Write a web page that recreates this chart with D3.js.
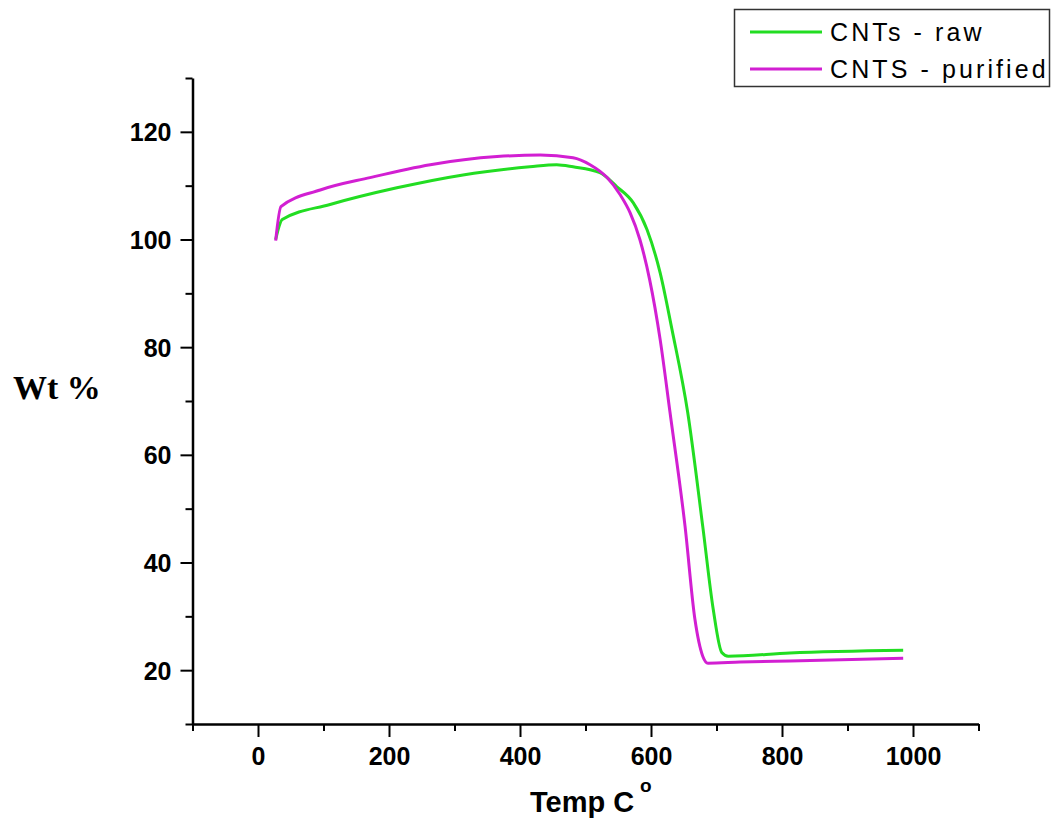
<!DOCTYPE html>
<html>
<head>
<meta charset="utf-8">
<script src="https://cdn.jsdelivr.net/npm/d3@7"></script>
<style>
  body { margin: 0; background: #fff; }
  svg { display: block; }
</style>
</head>
<body>
<div id="graph"></div>
<script>
// TGA curves
let tempRaw = [27, 37, 110, 212, 313, 415, 456, 481, 522, 548, 573, 594, 614, 632, 656, 679, 695, 708, 718, 812, 985];
let wtRaw   = [100, 103.7, 106.5, 109.6, 112.0, 113.5, 113.9, 113.5, 112.4, 109.8, 106.8, 101.8, 93.8, 83.3, 67.9, 46.7, 31.3, 23.3, 22.6, 23.2, 23.7];

let tempPurified = [27, 35, 95, 171, 263, 365, 431, 481, 507, 533, 553, 568, 583, 598, 614, 629, 652, 667, 679, 687, 736, 812, 985];
let wtPurified   = [99.8, 106.1, 109.2, 111.5, 113.9, 115.4, 115.7, 115.2, 113.9, 111.5, 108.3, 105.0, 100.0, 92.5, 81.4, 67.9, 46.7, 29.5, 22.6, 21.3, 21.5, 21.7, 22.2];

let seriesNames = ["CNTs - raw", "CNTS - purified"];
let seriesColors = ["#22dd22", "#d21fd2"];

let xTicks = [0, 200, 400, 600, 800, 1000];
let xMinor = [-100, 100, 300, 500, 700, 900, 1100];
let yTicks = [20, 40, 60, 80, 100, 120];
let yMinor = [10, 30, 50, 70, 90, 110, 130];

const width = 1053, height = 824;
const plot = {left: 192.5, right: 978.5, top: 78, bottom: 724};

let svg = d3.select("#graph")
    .append("svg")
    .attr("width", width)
    .attr("height", height);

let x = d3.scaleLinear().domain([-100, 1100]).range([plot.left, plot.right]);
let y = d3.scaleLinear().domain([10, 130]).range([plot.bottom, plot.top]);

// minor ticks first, then the labelled axis on top
svg.append("g")
    .attr("transform", `translate(0,${plot.bottom})`)
    .call(d3.axisBottom(x).tickValues(xMinor).tickSize(7).tickSizeOuter(0).tickFormat(""))
    .call(g => g.select(".domain").remove());
svg.append("g")
    .attr("transform", `translate(${plot.left},0)`)
    .call(d3.axisLeft(y).tickValues(yMinor).tickSize(7).tickSizeOuter(0).tickFormat(""))
    .call(g => g.select(".domain").remove());

let xAxis = svg.append("g")
    .attr("transform", `translate(0,${plot.bottom})`)
    .call(d3.axisBottom(x).tickValues(xTicks).tickSize(13).tickSizeOuter(0).tickPadding(10).tickFormat(d3.format("d")));
let yAxis = svg.append("g")
    .attr("transform", `translate(${plot.left},0)`)
    .call(d3.axisLeft(y).tickValues(yTicks).tickSize(12).tickSizeOuter(0).tickPadding(9));

svg.selectAll(".tick line").attr("stroke", "#000").attr("stroke-width", 2);
svg.selectAll(".domain").attr("stroke", "#000").attr("stroke-width", 2.5);
svg.selectAll(".tick text")
    .attr("fill", "#000")
    .style("font-family", "Liberation Sans, Arial, sans-serif")
    .style("font-weight", "bold")
    .style("font-size", "25px");
yAxis.selectAll(".tick text").attr("dy", "0.36em");

// curves
let line = d3.line()
    .x(d => x(d[0]))
    .y(d => y(d[1]))
    .curve(d3.curveMonotoneX);

let rawData = tempRaw.map((t, i) => [t, wtRaw[i]]);
let purData = tempPurified.map((t, i) => [t, wtPurified[i]]);

svg.append("path")
    .datum(rawData)
    .attr("fill", "none")
    .attr("stroke", seriesColors[0])
    .attr("stroke-width", 3)
    .attr("d", line);
svg.append("path")
    .datum(purData)
    .attr("fill", "none")
    .attr("stroke", seriesColors[1])
    .attr("stroke-width", 3)
    .attr("d", line);

// axis titles
svg.append("text")
    .attr("x", 13)
    .attr("y", 399)
    .style("font-family", "Liberation Serif, Times New Roman, serif")
    .style("font-weight", "bold")
    .style("font-size", "34px")
    .text("Wt %");

svg.append("text")
    .attr("x", 530)
    .attr("y", 812)
    .style("font-family", "Liberation Sans, Arial, sans-serif")
    .style("font-weight", "bold")
    .style("font-size", "29px")
    .text("Temp C");
svg.append("text")
    .attr("x", 640)
    .attr("y", 792)
    .style("font-family", "Liberation Sans, Arial, sans-serif")
    .style("font-weight", "bold")
    .style("font-size", "19px")
    .text("o");

// legend
let legend = svg.append("g");
legend.append("rect")
    .attr("x", 734.5)
    .attr("y", 9.5)
    .attr("width", 315)
    .attr("height", 77)
    .attr("fill", "#fff")
    .attr("stroke", "#333")
    .attr("stroke-width", 1.5);

let rows = legend.selectAll(".row").data(seriesNames).enter()
    .append("g")
    .attr("transform", (d, i) => `translate(0,${32 + i * 37})`);
rows.append("line")
    .attr("x1", 750).attr("x2", 822)
    .attr("stroke", (d, i) => seriesColors[i])
    .attr("stroke-width", 3);
rows.append("text")
    .attr("x", 830)
    .attr("y", 8.5)
    .style("font-family", "Liberation Sans, Arial, sans-serif")
    .style("font-size", "25px")
    .style("letter-spacing", "3.1px")
    .text(d => d);
</script>
</body>
</html>
